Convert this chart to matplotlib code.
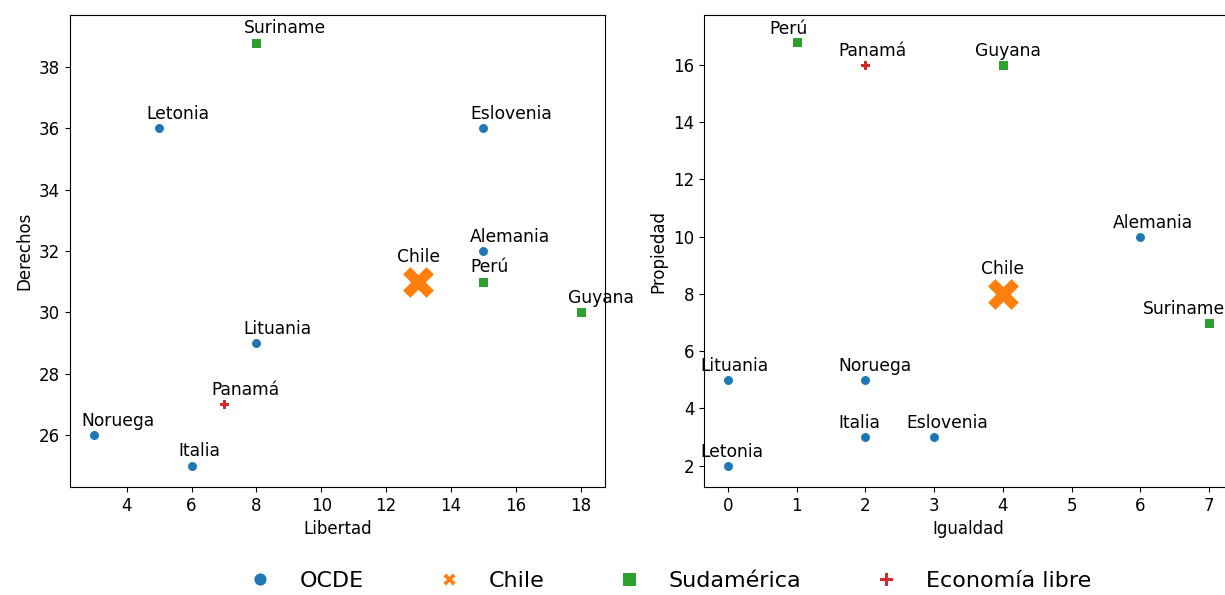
import matplotlib
matplotlib.use('Agg')
import matplotlib.pyplot as plt
from matplotlib.lines import Line2D

# Datos: nombre, grupo, valores
paises = ['Suriname', 'Letonia', 'Eslovenia', 'Alemania', 'Chile', 'Perú',
          'Guyana', 'Lituania', 'Panamá', 'Noruega', 'Italia']
grupos = ['Sudamérica', 'OCDE', 'OCDE', 'OCDE', 'Chile', 'Sudamérica',
          'Sudamérica', 'OCDE', 'Economía libre', 'OCDE', 'OCDE']
libertad = [8, 5, 15, 15, 13, 15, 18, 8, 7, 3, 6]
derechos = [38.8, 36, 36, 32, 31, 31, 30, 29, 27, 26, 25]
igualdad = [7, 0, 3, 6, 4, 1, 4, 0, 2, 2, 2]
propiedad = [7, 2, 3, 10, 8, 16.8, 16, 5, 16, 5, 3]

orden = ['OCDE', 'Chile', 'Sudamérica', 'Economía libre']
colores = {'OCDE': '#1f77b4', 'Chile': '#ff7f0e', 'Sudamérica': '#2ca02c', 'Economía libre': '#d62728'}
marcas = {'OCDE': 'o', 'Chile': 'X', 'Sudamérica': 's', 'Economía libre': 'P'}
tamanos = {'OCDE': 52, 'Chile': 540, 'Sudamérica': 52, 'Economía libre': 45}

plt.rcParams['font.size'] = 12

fig = plt.figure(figsize=(12.25, 5.95), dpi=100)
ax1 = fig.add_axes([0.0571, 0.1815, 0.4367, 0.7933])
# el eje derecho termina justo fuera del borde de la figura, como en el original
ax2 = fig.add_axes([0.5747, 0.1815, 0.4318, 0.7933])


def dibujar(ax, xs, ys, xlab, ylab, corr={}):
    for g in orden:
        idx = [i for i in range(len(paises)) if grupos[i] == g]
        ax.scatter([xs[i] for i in idx], [ys[i] for i in idx], s=tamanos[g],
                   c=colores[g], marker=marcas[g], edgecolors='white', linewidths=0.75, zorder=3)
    for i, p in enumerate(paises):
        if grupos[i] == 'Chile':
            ax.annotate(p, (xs[i], ys[i]), xytext=(-15.8, 14.4), textcoords='offset points', fontsize=12.3)
        else:
            ax.text(xs[i] + corr.get(p, -0.4), ys[i] + 0.3, p, fontsize=12.3)
    ax.set_xlabel(xlab)
    ax.set_ylabel(ylab)


dibujar(ax1, libertad, derechos, 'Libertad', 'Derechos')
ax1.set_xlim(2.25, 18.75)
ax1.set_ylim(24.3, 39.7)
ax1.set_xticks(range(4, 19, 2))

dibujar(ax2, igualdad, propiedad, 'Igualdad', 'Propiedad', corr={'Suriname': -0.96})
ax2.set_xlim(-0.35, 7.35)
ax2.set_ylim(1.25, 17.75)

handles = [Line2D([], [], linestyle='none', marker=marcas[g], color=colores[g],
                  markersize=9.5, markeredgecolor='white', markeredgewidth=0.75) for g in orden]
fig.legend(handles, orden, loc='center', bbox_to_anchor=(0.5425, 0.024), ncol=4,
           frameon=False, fontsize=16, columnspacing=2.8)

fig.savefig('out.png', dpi=100)
